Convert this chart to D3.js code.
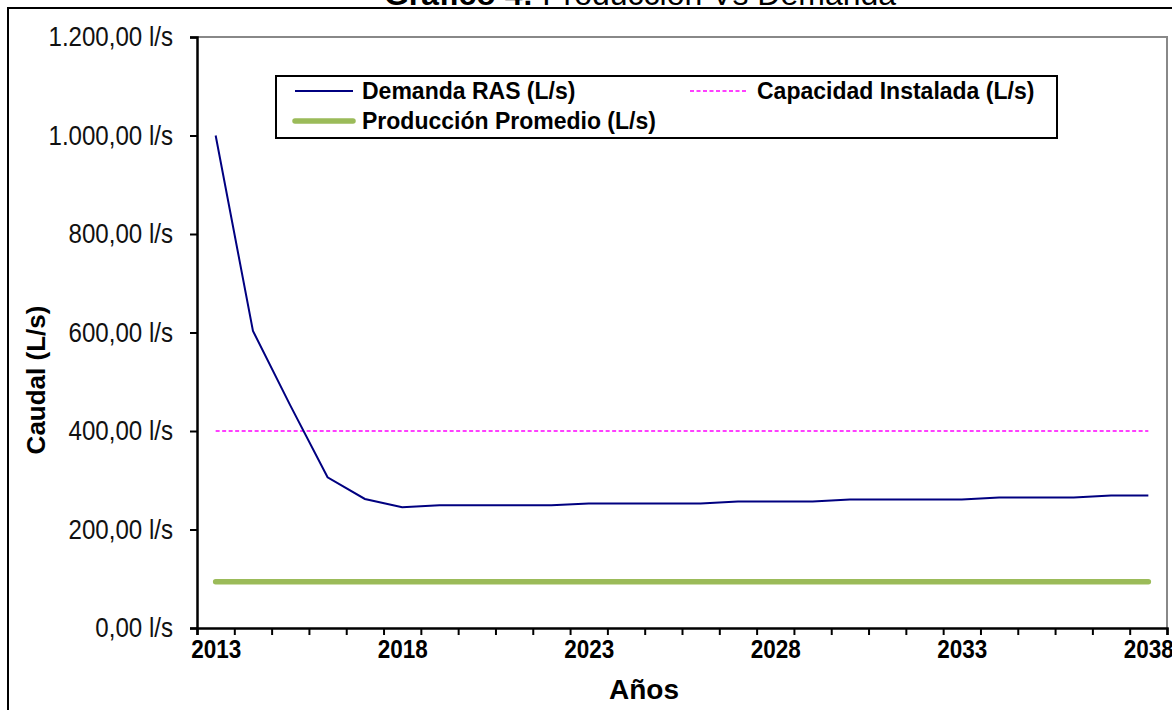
<!DOCTYPE html>
<html>
<head>
<meta charset="utf-8">
<script src="https://cdn.jsdelivr.net/npm/d3@7"></script>
<style>
  body { margin: 0; background: #fff; }
  svg { display: block; }
  .ytick text { font-family: "Liberation Sans", Arial, sans-serif; font-size: 28px; fill: #111; }
  .xlab text { font-family: "Liberation Sans", Arial, sans-serif; font-size: 26px; font-weight: bold; fill: #000; }
  .legend text { font-family: "Liberation Sans", Arial, sans-serif; font-size: 23px; font-weight: bold; fill: #000; }
</style>
</head>
<body>
<div id="chart"></div>
<script>
// Chart size
var w = 1172;
var h = 710;

// data
var years = [2013, 2014, 2015, 2016, 2017, 2018, 2019, 2020, 2021, 2022, 2023, 2024, 2025,
             2026, 2027, 2028, 2029, 2030, 2031, 2032, 2033, 2034, 2035, 2036, 2037, 2038];
var demanda = [1000, 603, 452, 306, 262, 245, 249, 249, 249, 249, 253, 253, 253,
               253, 257, 257, 257, 261, 261, 261, 261, 265, 265, 265, 269, 269];
var capacidad = 400;
var produccion = 94;
var yTicks = [0, 200, 400, 600, 800, 1000, 1200];
var xLabels = [2013, 2018, 2023, 2028, 2033, 2038];

var margin = {top: 37, bottom: 628, left: 197, right: 1167};

var locale = d3.formatLocale({decimal: ",", thousands: ".", grouping: [3], currency: ["", ""]});
var fmt = locale.format(",.2f");

// squeeze text horizontally (the original uses a narrow font that is not installed)
function condense(sel, factor) {
    sel.each(function() {
        var len = this.getComputedTextLength();
        d3.select(this)
            .attr("textLength", len * factor)
            .attr("lengthAdjust", "spacingAndGlyphs");
    });
}

var svg = d3.select("#chart").append("svg")
    .attr("width", w)
    .attr("height", h);

// outer chart frame
svg.append("rect")
    .attr("x", 8).attr("y", 8)
    .attr("width", w + 20).attr("height", h + 20)
    .style("fill", "none").style("stroke", "#000").style("stroke-width", 2);

// title (mostly cut off at the top, as in the original)
var title = svg.append("text")
    .attr("x", 640).attr("y", 5)
    .attr("text-anchor", "middle")
    .style("font-family", "Liberation Sans, Arial, sans-serif")
    .style("font-size", "32px");
title.append("tspan").style("font-weight", "bold").text("Gráfico 4: ");
title.append("tspan").text("Producción Vs Demanda");

var x = d3.scaleLinear()
    .domain([2012.5, 2038.5])
    .range([margin.left, margin.right]);

var y = d3.scaleLinear()
    .domain([0, 1200])
    .range([margin.bottom, margin.top]);

// plot area frame (grey top and right)
svg.append("path")
    .attr("d", "M" + x(2012.5) + "," + y(1200) + "H" + x(2038.5) + "V" + y(0))
    .style("fill", "none").style("stroke", "#888").style("stroke-width", 2);

// y axis
var yAxis = svg.append("g")
    .attr("class", "ytick")
    .attr("transform", "translate(" + margin.left + ",0)")
    .call(d3.axisLeft(y).tickValues(yTicks).tickSize(7).tickPadding(17)
        .tickFormat(function(d) { return fmt(d) + " l/s"; }));
yAxis.select(".domain").style("stroke", "#000").style("stroke-width", 2.5);
yAxis.selectAll(".tick line").style("stroke", "#000").style("stroke-width", 2);
yAxis.selectAll(".tick text").call(condense, 0.86);

// x axis: tick marks on category boundaries
var bounds = years.map(function(d) { return d - 0.5; }).concat([2038.5]);
var xAxis = svg.append("g")
    .attr("transform", "translate(0," + y(0) + ")")
    .call(d3.axisBottom(x).tickValues(bounds).tickSize(7).tickFormat(""));
xAxis.select(".domain").style("stroke", "#000").style("stroke-width", 2.5);
xAxis.selectAll(".tick line").style("stroke", "#000").style("stroke-width", 2);

// x labels centred on the categories
var xLab = svg.append("g")
    .attr("class", "xlab")
    .attr("transform", "translate(0," + y(0) + ")")
    .call(d3.axisBottom(x).tickValues(xLabels).tickSize(0).tickPadding(12).tickFormat(d3.format("d")))
    .call(function(g) { g.select(".domain").remove(); });
xLab.selectAll(".tick text").call(condense, 0.865);

// axis titles
svg.append("text")
    .attr("x", 644).attr("y", 699)
    .attr("text-anchor", "middle")
    .style("font-family", "Liberation Sans, Arial, sans-serif")
    .style("font-size", "28px").style("font-weight", "bold")
    .text("Años");

svg.append("text")
    .attr("transform", "translate(45,380) rotate(-90)")
    .attr("text-anchor", "middle")
    .style("font-family", "Liberation Sans, Arial, sans-serif")
    .style("font-size", "26px").style("font-weight", "bold")
    .text("Caudal (L/s)");

// series
var line = d3.line()
    .x(function(d) { return x(d[0]); })
    .y(function(d) { return y(d[1]); });

svg.append("path")
    .datum(years.map(function(d) { return [d, produccion]; }))
    .attr("d", line)
    .style("fill", "none").style("stroke", "#9BBB59")
    .style("stroke-width", 5.5).style("stroke-linecap", "round");

svg.append("path")
    .datum(years.map(function(d) { return [d, capacidad]; }))
    .attr("d", line)
    .style("fill", "none").style("stroke", "#FF00FF")
    .style("stroke-width", 1.6).style("stroke-dasharray", "4,2.5");

svg.append("path")
    .datum(years.map(function(d, i) { return [d, demanda[i]]; }))
    .attr("d", line)
    .style("fill", "none").style("stroke", "#000080")
    .style("stroke-width", 2);

// legend
var legend = svg.append("g").attr("class", "legend");
legend.append("rect")
    .attr("x", 276).attr("y", 76).attr("width", 781).attr("height", 62)
    .style("fill", "#fff").style("stroke", "#000").style("stroke-width", 2);

var items = [
    {name: "Demanda RAS (L/s)", x: 295, y: 91, color: "#000080", width: 2, dash: null},
    {name: "Capacidad Instalada (L/s)", x: 690, y: 91, color: "#FF00FF", width: 1.6, dash: "4,2.5"},
    {name: "Producción Promedio (L/s)", x: 295, y: 121, color: "#9BBB59", width: 5.5, dash: null}
];
items.forEach(function(d) {
    legend.append("line")
        .attr("x1", d.x).attr("x2", d.x + 58)
        .attr("y1", d.y).attr("y2", d.y)
        .style("stroke", d.color).style("stroke-width", d.width)
        .style("stroke-dasharray", d.dash)
        .style("stroke-linecap", d.width > 3 ? "round" : "butt");
    legend.append("text")
        .attr("x", d.x + 67).attr("y", d.y + 8)
        .text(d.name);
});
</script>
</body>
</html>
